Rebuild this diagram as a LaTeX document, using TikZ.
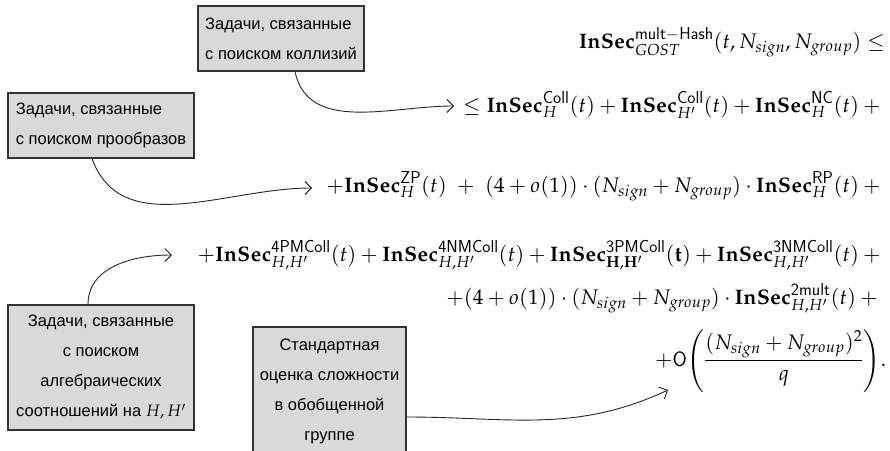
\documentclass[tikz,border=0pt]{standalone}
\usepackage{amsmath}
\usepackage{mathpazo}
\usepackage[no-math]{fontspec}
\newfontfamily\boxfont{Liberation Sans}
\usetikzlibrary{arrows.meta}
\newcommand{\IS}{\mathbf{InSec}}
\begin{document}
\begin{tikzpicture}[x=1pt,y=-1pt,
  box/.style={draw=black!80, fill=black!15, line width=1.1pt, inner sep=0pt,
    font=\boxfont\fontsize{16.5}{30}\selectfont},
  fml/.style={inner sep=0pt, font=\fontsize{21}{26}\selectfont},
  arr/.style={line width=0.9pt, draw=black!85, -{Straight Barb[length=6.5pt,width=13pt]}}]
\useasboundingbox (0,0) rectangle (890,450);
\clip (0,0) rectangle (890,450);
% boxes
\node[box, minimum width=166, minimum height=65, align=left] (b1) at (281,38.5)
  {Задачи, связанные\\с поиском коллизий};
\node[box, minimum width=186, minimum height=65, align=left] (b2) at (101,125.5)
  {Задачи, связанные\\с поиском прообразов};
\node[box, minimum width=186, minimum height=125, align=center] (b3) at (101,367.5)
  {Задачи, связанные\\с поиском\\алгебраических\\соотношений на $H, H'$};
\node[box, minimum width=153, minimum height=128, align=center] (b4) at (329.5,391)
  {Стандартная\\оценка сложности\\в обобщенной\\группе};
% formulas
\node[fml, anchor=base east] (l1) at (885,48)
  {$\IS^{\mathsf{mult-Hash}}_{GOST}(t, N_{sign}, N_{group}) \le$};
\node[fml, anchor=base east] (l2) at (885,112)
  {${}\le \IS^{\mathsf{Coll}}_{H}(t) + \IS^{\mathsf{Coll}}_{H'}(t) + \IS^{\mathsf{NC}}_{H}(t) +{}$};
\node[fml, anchor=base east] (l3) at (885,192)
  {$+\IS^{\mathsf{ZP}}_{H}(t)\ +\ (4+o(1))\cdot(N_{sign}+N_{group})\cdot\IS^{\mathsf{RP}}_{H}(t) +{}$};
\node[fml, anchor=base east] (l4) at (885,261)
  {$+\IS^{\mathsf{4PMColl}}_{H,H'}(t) + \IS^{\mathsf{4NMColl}}_{H,H'}(t) + \IS^{\mathsf{3PMColl}}_{\mathbf{H,H'}}\mathbf{(t)} + \IS^{\mathsf{3NMColl}}_{H,H'}(t) +{}$};
\node[fml, anchor=base east] (l5) at (882,304)
  {$+(4+o(1))\cdot(N_{sign}+N_{group})\cdot\IS^{\mathsf{2mult}}_{H,H'}(t) +{}$};
\node[fml, anchor=base west] (l6) at (655,366)
  {$\displaystyle +\mathsf{O}\!\left(\frac{(N_{sign}+N_{group})^2}{q}\right)\!.$};
% arrows
\coordinate (t1) at (454,106);
\coordinate (t2) at (312,188);
\coordinate (t3) at (172,255);
\coordinate (t4) at (668,390);
\draw[arr] ([xshift=14pt]b1.south) to[out=-78,in=180] (t1);
\draw[arr] ([xshift=-9pt]b2.south) to[out=-70,in=180] (t2);
\draw[arr] ([xshift=-13pt]b3.north) to[out=90,in=180] (t3);
\draw[arr] ([yshift=-26pt]b4.east) to[out=0,in=205] (t4);
\end{tikzpicture}
\end{document}
